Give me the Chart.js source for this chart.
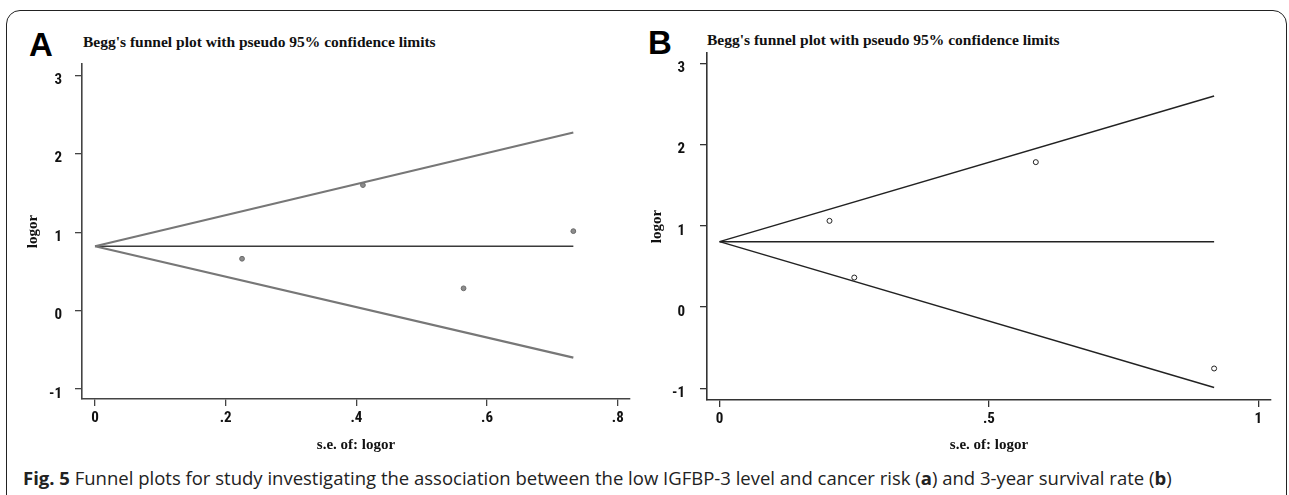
<!DOCTYPE html>
<html>
<head>
<meta charset="utf-8">
<script src="https://cdn.jsdelivr.net/npm/chart.js@4/dist/chart.umd.min.js"></script>
<style>
  html, body { margin: 0; padding: 0; background: #fff; }
  body { width: 1289px; height: 495px; position: relative; overflow: hidden; }
  .frame { position: absolute; left: 6px; top: 10px; width: 1281px; height: 600px;
           border: 1.5px solid #222; border-radius: 14px; box-sizing: border-box; }
  canvas { position: absolute; top: 0; }
  .tag { position: absolute; font: bold 33px "Liberation Sans", Arial, sans-serif; color: #000; line-height: 1; }
  .ttl { position: absolute; font: bold 15.5px "Liberation Serif", "Times New Roman", serif; color: #111;
         white-space: nowrap; line-height: 1; }
  .cap { position: absolute; left: 23px; top: 465px; font: 18.5px "Open Sans", sans-serif; color: #222;
         white-space: nowrap; line-height: 25px; }
</style>
</head>
<body>
<div class="frame"></div>
<div class="tag" style="left:29px; top:28px;">A</div>
<div class="tag" style="left:648px; top:26px;">B</div>
<div class="ttl" style="left:83px; top:34px;">Begg's funnel plot with pseudo 95% confidence limits</div>
<div class="ttl" style="left:707px; top:32px;">Begg's funnel plot with pseudo 95% confidence limits</div>
<canvas id="chartA" width="645" height="460" style="left:0"></canvas>
<canvas id="chartB" width="644" height="460" style="left:645px"></canvas>
<div class="cap"><b>Fig. 5</b> Funnel plots for study investigating the association between the low IGFBP-3 level and cancer risk (<b>a</b>) and 3-year survival rate (<b>b</b>)</div>

<script>
// panel A: cancer risk
const seA = [0.225, 0.41, 0.564, 0.732];
const logorA = [0.661, 1.60, 0.284, 1.013];
const funnelSeA = [0, 0.732];
const upperA = [0.82, 2.27];
const centerA = [0.82, 0.82];
const lowerA = [0.82, -0.60];
const xTicksA = [0, 0.2, 0.4, 0.6, 0.8];

// panel B: 3-year survival
const seB = [0.204, 0.25, 0.587, 0.918];
const logorB = [1.062, 0.364, 1.785, -0.756];
const funnelSeB = [0, 0.918];
const upperB = [0.806, 2.60];
const centerB = [0.806, 0.806];
const lowerB = [0.806, -0.99];
const xTicksB = [0, 0.5, 1];

const yTicks = [-1, 0, 1, 2, 3];

Chart.defaults.devicePixelRatio = 1;

function pts(xs, ys) {
  return xs.map((x, i) => ({ x: x, y: ys[i] }));
}

// Stata style tick labels: .2 instead of 0.2
function fmt(v) {
  return String(Math.round(v * 100) / 100).replace(/^0\./, ".").replace(/^-0\./, "-.");
}

function lineSet(xs, ys, color, width) {
  return {
    type: "line",
    data: pts(xs, ys),
    borderColor: color,
    borderWidth: width,
    pointRadius: 0,
    fill: false
  };
}

function makeChart(id, p) {
  const tickFont = { family: "'Liberation Sans Narrow', 'Roboto Condensed', 'Liberation Sans', sans-serif", weight: "bold", size: 15 };
  const titleFont = { family: "'Liberation Serif', 'Times New Roman', serif", weight: "bold", size: 15 };
  new Chart(document.getElementById(id), {
    type: "scatter",
    data: {
      datasets: [
        lineSet(p.fx, p.upper, p.lineColor, p.lineWidth),
        lineSet(p.fx, p.lower, p.lineColor, p.lineWidth),
        lineSet(p.fx, p.center, p.midColor, p.midWidth),
        {
          data: pts(p.se, p.logor),
          pointRadius: p.pointRadius,
          pointBackgroundColor: p.pointFill,
          pointBorderColor: p.pointEdge,
          pointBorderWidth: 1,
          showLine: false
        }
      ]
    },
    options: {
      responsive: false,
      animation: false,
      events: [],
      layout: { padding: { left: 0, top: p.top, right: p.right, bottom: 0 } },
      plugins: { legend: { display: false }, tooltip: { enabled: false } },
      scales: {
        x: {
          type: "linear",
          min: p.xMin,
          max: p.xMax,
          afterBuildTicks: s => { s.ticks = p.xTicks.map(v => ({ value: v })); },
          afterFit: s => { s.height = p.xHeight; },
          ticks: { callback: fmt, font: tickFont, color: "#111", padding: 3, maxRotation: 0, autoSkip: false },
          grid: { drawOnChartArea: false, drawTicks: true, tickLength: 7, color: p.axisColor, lineWidth: 1.3 },
          border: { display: true, color: p.axisColor, width: 1.6 },
          title: { display: true, text: "s.e. of: logor", font: titleFont, color: "#111", padding: { top: 0, bottom: 6 } }
        },
        y: {
          type: "linear",
          min: p.yMin,
          max: p.yMax,
          afterBuildTicks: s => { s.ticks = yTicks.map(v => ({ value: v })); },
          afterFit: s => { s.width = p.yWidth; },
          ticks: { callback: fmt, font: tickFont, color: "#111", padding: p.yPad, labelOffset: 5, autoSkip: false },
          grid: { drawOnChartArea: false, drawTicks: true, tickLength: 7, color: p.axisColor, lineWidth: 1.3 },
          border: { display: true, color: p.axisColor, width: 1.6 },
          title: { display: true, text: "logor", font: titleFont, color: "#111", padding: { top: p.yTitlePad, bottom: 0 } }
        }
      }
    }
  });
}

makeChart("chartA", {
  se: seA, logor: logorA, fx: funnelSeA, upper: upperA, lower: lowerA, center: centerA,
  xTicks: xTicksA, xMin: -0.0199, xMax: 0.8187, yMin: -1.127, yMax: 3.144,
  top: 64, right: 15, xHeight: 61, yWidth: 82, yPad: 13, yTitlePad: 24,
  lineColor: "#777", lineWidth: 2.2, midColor: "#3a3a3a", midWidth: 1.6,
  pointRadius: 2.4, pointFill: "#8c8c8c", pointEdge: "#6a6a6a", axisColor: "#444"
});

makeChart("chartB", {
  se: seB, logor: logorB, fx: funnelSeB, upper: upperB, lower: lowerB, center: centerB,
  xTicks: xTicksB, xMin: -0.0234, xMax: 1.0236, yMin: -1.144, yMax: 3.129,
  top: 53, right: 18, xHeight: 60, yWidth: 62, yPad: 15, yTitlePad: 3,
  lineColor: "#222", lineWidth: 1.5, midColor: "#222", midWidth: 1.5,
  pointRadius: 2.5, pointFill: "#fff", pointEdge: "#222", axisColor: "#333"
});
</script>
</body>
</html>
